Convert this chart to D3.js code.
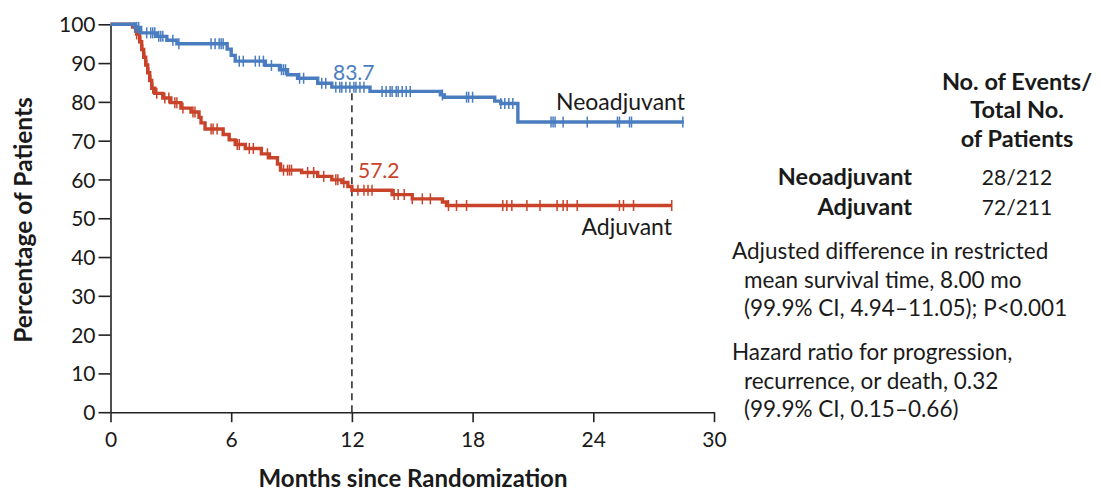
<!DOCTYPE html>
<html>
<head>
<meta charset="utf-8">
<script src="https://cdn.jsdelivr.net/npm/d3@7"></script>
<style>
  body { margin: 0; background: #fff; }
  svg text { font-family: Lato, "Open Sans", sans-serif; fill: #1a1a1a; }
</style>
</head>
<body>
<svg width="1101" height="493"></svg>
<script>
// step data: [month, percent]
var neoSteps = [[0,100],[1.2,99.2],[1.5,97.8],[2.3,96.9],[2.8,95.9],[3.3,95.0],[5.8,93.6],[6.0,92.0],
    [6.2,90.5],[7.7,89.4],[8.4,88.3],[8.8,87.0],[9.3,86.1],[10.3,84.8],[11.0,83.8],[12.9,82.7],
    [16.4,81.8],[16.6,81.2],[19.1,80.2],[19.4,79.6],[20.25,74.8],[28.5,74.8]];
var adjSteps = [[0,100],[1.1,99.3],[1.3,97.5],[1.45,95.5],[1.55,93.5],[1.65,91.5],[1.75,89.5],[1.85,87.5],
    [1.95,85.5],[2.05,83.5],[2.2,82.2],[2.6,81.0],[3.0,79.8],[3.5,78.4],[4.0,77.4],[4.4,76.0],
    [4.5,74.6],[4.7,73.0],[5.6,71.6],[5.9,70.2],[6.2,69.0],[6.7,68.0],[7.5,66.6],[7.9,65.6],
    [8.3,64.0],[8.45,62.4],[9.5,61.8],[10.3,60.8],[11.0,59.9],[11.5,59.2],[11.8,58.2],[12.0,57.2],
    [14.0,56.1],[15.0,55.0],[16.5,54.2],[16.7,53.3],[27.9,53.3]];

// censoring times (tick marks)
var neoCensor = [1.2,1.3,1.4,1.8,2.0,2.1,2.2,2.4,2.5,2.6,3.1,3.4,5.0,5.2,5.4,5.5,5.6,6.4,6.6,7.2,7.4,
    7.6,8.0,8.5,8.6,8.7,9.4,9.6,10.5,10.7,11.2,11.4,11.5,11.7,11.9,12.1,12.2,12.4,12.6,13.5,13.7,
    13.9,14.0,14.2,14.3,14.5,14.7,14.9,16.5,17.7,17.8,18.0,19.4,19.6,19.8,20.0,21.9,22.0,22.1,22.5,
    23.7,25.2,25.3,25.8,25.9,28.45];
var adjCensor = [1.3,1.5,1.6,1.7,1.8,1.9,2.0,2.1,2.3,2.7,2.9,3.2,3.3,3.6,4.1,4.2,5.0,5.1,5.3,6.3,6.4,
    6.9,7.1,7.8,8.6,8.8,8.9,9.0,9.8,10.1,10.6,11.2,11.3,11.6,12.3,12.6,12.8,13.0,14.1,14.3,14.6,
    15.0,15.5,15.9,16.8,17.2,17.7,19.5,19.7,19.95,20.7,21.35,22.2,22.5,22.7,23.2,25.3,25.5,26.0,27.9];

var xTicks = [0, 6, 12, 18, 24, 30];
var yTicks = [0, 10, 20, 30, 40, 50, 60, 70, 80, 90, 100];
var landmark = {month: 12, neo: 83.7, adj: 57.2};

var neoColor = '#4a7dc0';
var adjColor = '#c9432a';

var svg = d3.select('svg');

var xScale = d3.scaleLinear().domain([0, 30]).range([110.5, 714]);
var yScale = d3.scaleLinear().domain([0, 100]).range([412.2, 24.3]);

// axes
var xAxis = d3.axisBottom(xScale).tickValues(xTicks).tickSize(10).tickPadding(5).tickSizeOuter(0);
var yAxis = d3.axisLeft(yScale).tickValues(yTicks).tickSize(12).tickPadding(3).tickSizeOuter(0);

var gx = svg.append('g')
    .attr('transform', 'translate(0,' + yScale(0) + ')')
    .call(xAxis);
var gy = svg.append('g')
    .attr('transform', 'translate(' + xScale(0) + ',0)')
    .call(yAxis);

[gx, gy].forEach(function(g) {
    g.selectAll('path, line').attr('stroke', '#222').attr('stroke-width', 1.6);
    g.selectAll('text').attr('font-size', '21px').attr('fill', '#1a1a1a')
        .style('font-family', 'Lato, sans-serif');
});
gx.selectAll('text').attr('dy', '0.95em');
gy.selectAll('text').attr('dy', '0.36em');

// landmark dashed line
svg.append('line')
    .attr('x1', xScale(landmark.month)).attr('x2', xScale(landmark.month))
    .attr('y1', yScale(0)).attr('y2', yScale(landmark.neo))
    .attr('stroke', '#333').attr('stroke-width', 1.6)
    .attr('stroke-dasharray', '7,5');

var line = d3.line()
    .x(function(d) { return xScale(d[0]); })
    .y(function(d) { return yScale(d[1]); })
    .curve(d3.curveStepAfter);

function survAt(steps, t) {
    var v = steps[0][1];
    for (var i = 0; i < steps.length; i++) {
        if (steps[i][0] <= t) v = steps[i][1];
    }
    return v;
}

function drawCurve(steps, censor, color) {
    svg.append('path')
        .datum(steps)
        .attr('d', line)
        .attr('fill', 'none')
        .attr('stroke', color)
        .attr('stroke-width', 3.4);

    svg.append('g').selectAll('line')
        .data(censor)
        .enter()
        .append('line')
        .attr('x1', function(d) { return xScale(d); })
        .attr('x2', function(d) { return xScale(d); })
        .attr('y1', function(d) { return yScale(survAt(steps, d)) - 5.5; })
        .attr('y2', function(d) { return yScale(survAt(steps, d)) + 5.5; })
        .attr('stroke', color)
        .attr('stroke-width', 1.5);
}

drawCurve(adjSteps, adjCensor, adjColor);
drawCurve(neoSteps, neoCensor, neoColor);

// labels on the curves
svg.append('text').attr('x', 333).attr('y', 80).text(landmark.neo.toFixed(1))
    .attr('font-size', '21px').style('fill', neoColor);
svg.append('text').attr('x', 358).attr('y', 178).text(landmark.adj.toFixed(1))
    .attr('font-size', '21px').style('fill', adjColor);
svg.append('text').attr('x', 685).attr('y', 110).attr('text-anchor', 'end')
    .text('Neoadjuvant').attr('font-size', '23px');
svg.append('text').attr('x', 672).attr('y', 235).attr('text-anchor', 'end')
    .text('Adjuvant').attr('font-size', '23px');

// axis titles
svg.append('text')
    .attr('x', 413).attr('y', 487).attr('text-anchor', 'middle')
    .attr('font-size', '24px').attr('font-weight', 'bold')
    .text('Months since Randomization');
svg.append('text')
    .attr('transform', 'translate(32,220) rotate(-90)')
    .attr('text-anchor', 'middle')
    .attr('font-size', '24.5px').attr('font-weight', 'bold')
    .text('Percentage of Patients');

// right-hand panel
var headLines = ['No. of Events/', 'Total No.', 'of Patients'];
var headY = [90, 118, 147];
var groups = ['Neoadjuvant', 'Adjuvant'];
var events = ['28/212', '72/211'];
var groupY = [185, 215];
var notes1 = ['Adjusted difference in restricted', 'mean survival time, 8.00 mo', '(99.9% CI, 4.94\u201311.05); P<0.001'];
var notes2 = ['Hazard ratio for progression,', 'recurrence, or death, 0.32', '(99.9% CI, 0.15\u20130.66)'];

svg.selectAll('.head').data(headLines).enter().append('text')
    .attr('class', 'head')
    .attr('x', 1017).attr('y', function(d, i) { return headY[i]; })
    .attr('text-anchor', 'middle').attr('font-size', '23.5px').attr('font-weight', 'bold')
    .text(function(d) { return d; });

svg.selectAll('.grp').data(groups).enter().append('text')
    .attr('class', 'grp')
    .attr('x', 912).attr('y', function(d, i) { return groupY[i]; })
    .attr('text-anchor', 'end').attr('font-size', '23.5px').attr('font-weight', 'bold')
    .text(function(d) { return d; });

svg.selectAll('.evt').data(events).enter().append('text')
    .attr('class', 'evt')
    .attr('x', 1017).attr('y', function(d, i) { return groupY[i]; })
    .attr('text-anchor', 'middle').attr('font-size', '21px')
    .text(function(d) { return d; });

function noteBlock(lines, y0) {
    svg.append('g').selectAll('text').data(lines).enter().append('text')
        .attr('x', function(d, i) { return i === 0 ? 732 : 744; })
        .attr('y', function(d, i) { return y0 + i * 28.5; })
        .attr('font-size', '22.5px')
        .text(function(d) { return d; });
}
noteBlock(notes1, 259);
noteBlock(notes2, 360);
</script>
</body>
</html>
